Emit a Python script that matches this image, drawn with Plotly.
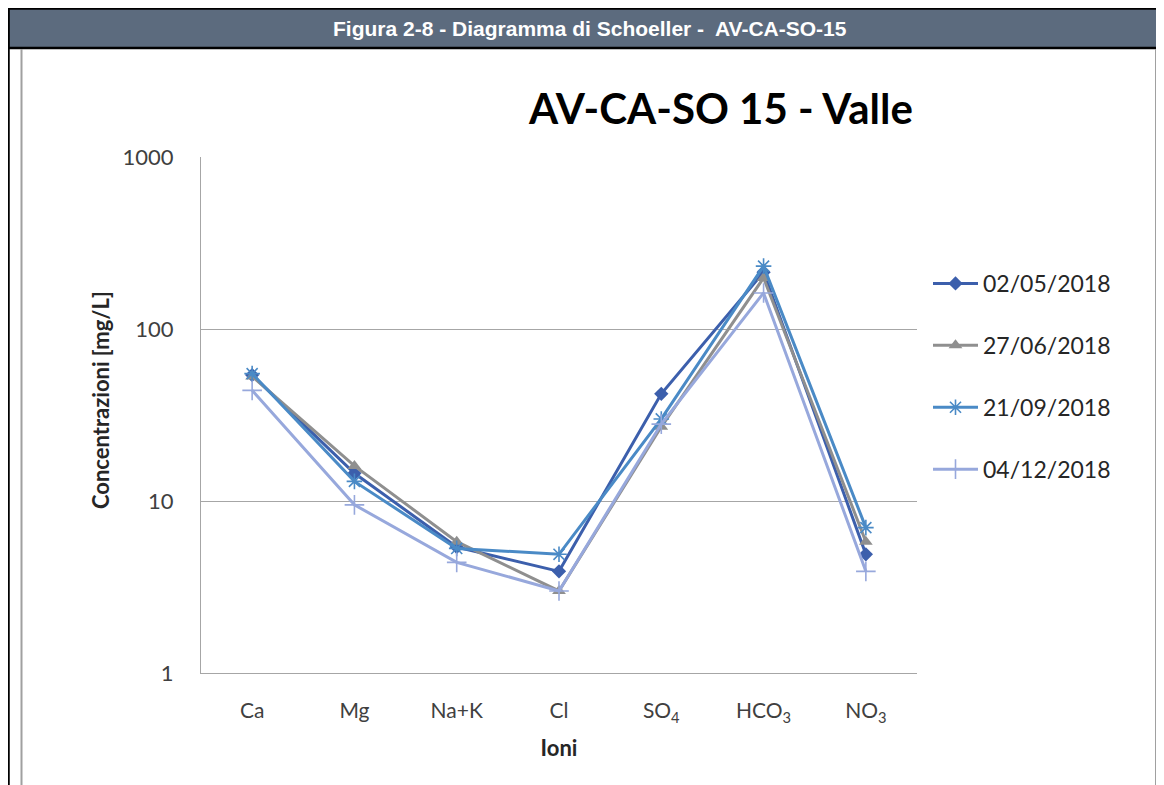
import plotly.graph_objects as go

categories = ["Ca", "Mg", "Na+K", "Cl", "SO₄", "HCO₃", "NO₃"]
tick_labels = ["Ca", "Mg", "Na+K", "Cl", "SO<sub>4</sub>", "HCO<sub>3</sub>", "NO<sub>3</sub>"]
series_names = ["02/05/2018", "27/06/2018", "21/09/2018", "04/12/2018"]
s_0205 = [54, 14.5, 5.4, 3.9, 42, 214, 4.9]
s_2706 = [53, 16, 5.8, 3.0, 27, 198, 5.8]
s_2109 = [55, 13, 5.3, 4.9, 30, 232, 7.0]
s_0412 = [44, 9.5, 4.4, 3.0, 28, 162, 3.9]
y_ticks = [1, 10, 100, 1000]

colors = ["#3c5fac", "#8f8f8f", "#4a8ac6", "#97a8dc"]
symbols = ["diamond", "triangle-up", "asterisk-open", "cross-thin-open"]
msizes = [11, 12, 13, 14]
values = [s_0205, s_2706, s_2109, s_0412]

# page offset (browser body margin)
OFF = 8
SW, SH = 1164, 785
W, H = SW - OFF, SH - OFF
L, R, T, B = 201, 917, 157, 673  # plot area in screen pixels

def px(x):
    return (x - L) / (R - L)

def py(y):
    return (B - y) / (B - T)

fig = go.Figure()
for i, (name, vals) in enumerate(zip(series_names, values)):
    mline = dict(width=1.6, color=colors[i]) if "open" in symbols[i] else dict(width=0)
    fig.add_trace(go.Scatter(
        x=categories, y=vals, name=name, mode="lines+markers",
        line=dict(color=colors[i], width=3),
        marker=dict(symbol=symbols[i], size=msizes[i], color=colors[i], line=mline),
        legendgroup=name,
    ))

font_main = "Lato, Calibri, Open Sans, sans-serif"

fig.update_layout(
    width=W, height=H,
    margin=dict(l=L - OFF, r=SW - R, t=T - OFF, b=SH - B, pad=0),
    paper_bgcolor="white", plot_bgcolor="white",
    font=dict(family=font_main, color="#262626"),
    showlegend=True,
    legend=dict(x=px(928), y=py(262), xanchor="left", yanchor="top",
                font=dict(size=23, color="#262626", family=font_main),
                tracegroupgap=29, itemwidth=45, bgcolor="rgba(0,0,0,0)"),
    xaxis=dict(type="category", range=[-0.5, 6.5], showgrid=False,
               tickmode="array", tickvals=categories, ticktext=tick_labels,
               showline=True, linecolor="#a6a6a6", linewidth=1.2,
               ticks="", tickfont=dict(size=21, color="#404040"),
               ticklabelstandoff=19,
               title=dict(text="<b>Ioni</b>", font=dict(size=22, color="#262626"), standoff=15)),
    yaxis=dict(type="log", range=[0, 3], tickvals=y_ticks,
               ticktext=[str(v) for v in y_ticks],
               showgrid=True, gridcolor="#a6a6a6", gridwidth=1.2,
               showline=True, linecolor="#a6a6a6", linewidth=1.2,
               zeroline=False, ticks="", tickfont=dict(size=22, color="#404040"),
               ticklabelstandoff=22),
)

shapes = []
# header bar
shapes.append(dict(type="rect", xref="paper", yref="paper",
                   x0=px(8), x1=px(1166), y0=py(48), y1=py(8.5),
                   fillcolor="#5c6b7e", line=dict(color="black", width=2.5), layer="above"))
# left black border
shapes.append(dict(type="line", xref="paper", yref="paper",
                   x0=px(8.5), x1=px(8.5), y0=py(8), y1=py(790),
                   line=dict(color="black", width=2.5), layer="above"))
# inner gray borders
shapes.append(dict(type="line", xref="paper", yref="paper",
                   x0=px(21.5), x1=px(21.5), y0=py(49), y1=py(790),
                   line=dict(color="#a0a0a0", width=2), layer="above"))
shapes.append(dict(type="line", xref="paper", yref="paper",
                   x0=px(1156), x1=px(1156), y0=py(49), y1=py(790),
                   line=dict(color="#a0a0a0", width=2), layer="above"))
fig.update_layout(shapes=shapes)

fig.add_annotation(xref="paper", yref="paper", x=px(590), y=py(28),
                   text="<b>Figura 2-8 - Diagramma di Schoeller -  AV-CA-SO-15</b>",
                   showarrow=False, xanchor="center", yanchor="middle",
                   font=dict(size=21, color="white",
                             family="Liberation Sans Narrow, Arial Narrow, Liberation Sans, Arial, sans-serif"))
fig.add_annotation(xref="paper", yref="paper", x=px(720), y=py(108),
                   text="<b>AV-CA-SO 15 - Valle</b>",
                   showarrow=False, xanchor="center", yanchor="middle",
                   font=dict(size=42, color="black", family=font_main))
fig.add_annotation(xref="paper", yref="paper", x=px(100), y=py(400),
                   text="<b>Concentrazioni [mg/L]</b>", textangle=-90,
                   showarrow=False, xanchor="center", yanchor="middle",
                   font=dict(size=22, color="#262626", family=font_main))

fig.write_html("out.html")
